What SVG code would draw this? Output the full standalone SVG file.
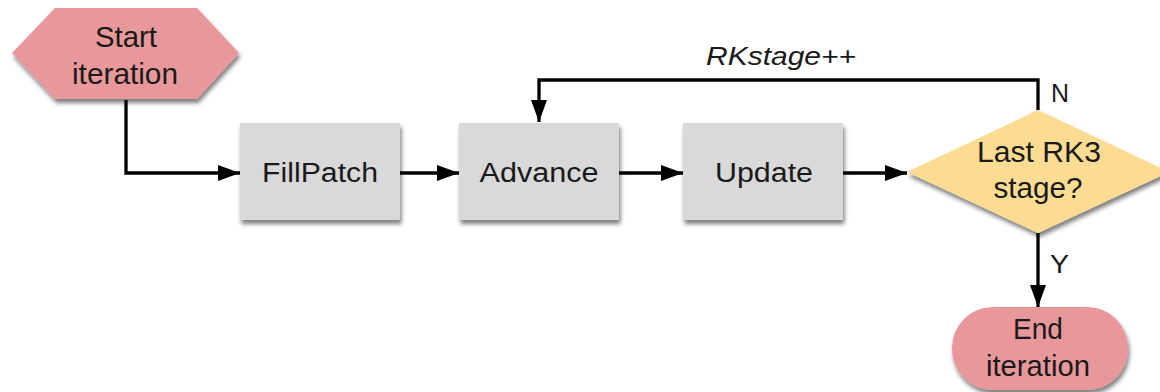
<svg xmlns="http://www.w3.org/2000/svg" width="1160" height="392" viewBox="0 0 1160 392">
<style>
  .t { font-family: "Liberation Sans", Arial, sans-serif; font-size: 27px; fill: #1a1a1a; text-anchor: middle; }
  .tb { font-size: 29px; }
  .lbl { font-family: "Liberation Sans", Arial, sans-serif; font-size: 26px; fill: #1a1a1a; }
  .box { fill: #d9d9d9; filter: url(#sh); }
  .term { fill: #e8989b; filter: url(#sh); }
  .dec { fill: #fcdc92; filter: url(#sh); }
  .conn { fill: none; stroke: #000; stroke-width: 3.3; marker-end: url(#arr); }
</style>
<defs>
  <filter id="sh" x="-10%" y="-10%" width="130%" height="140%">
    <feDropShadow dx="1.5" dy="4" stdDeviation="2" flood-color="#000" flood-opacity="0.5"/>
  </filter>
  <marker id="arr" markerUnits="userSpaceOnUse" markerWidth="24" markerHeight="18" refX="22" refY="8" orient="auto">
    <path d="M0,0 L22,8 L0,16 Z" fill="#000"/>
  </marker>
</defs>
<rect width="1160" height="392" fill="#ffffff"/>

<g id="connectors">
  <path class="conn" d="M126,100 V173 H240"/>
  <path class="conn" d="M400,173 H459"/>
  <path class="conn" d="M619,173 H683"/>
  <path class="conn" d="M843,173 H907"/>
  <path class="conn" d="M1038,110 V80 H539 V122"/>
  <path class="conn" d="M1038,233 V307"/>
  <text class="lbl" x="706" y="65" font-style="italic" textLength="150" lengthAdjust="spacingAndGlyphs">RKstage++</text>
  <text class="lbl" x="1051" y="102" textLength="18" lengthAdjust="spacingAndGlyphs">N</text>
  <text class="lbl" x="1050" y="273" textLength="19" lengthAdjust="spacingAndGlyphs">Y</text>
</g>

<g id="start">
  <polygon class="term" points="12,53 55,8 197,8 239,53 197,99 55,99"/>
  <text class="t tb" x="126" y="47" textLength="62" lengthAdjust="spacingAndGlyphs">Start</text>
  <text class="t tb" x="125" y="84" textLength="106" lengthAdjust="spacingAndGlyphs">iteration</text>
</g>

<g id="fillpatch">
  <rect class="box" x="240" y="123" width="160" height="97"/>
  <text class="t" x="320" y="182" textLength="116" lengthAdjust="spacingAndGlyphs">FillPatch</text>
</g>

<g id="advance">
  <rect class="box" x="459" y="123" width="160" height="97"/>
  <text class="t" x="539" y="182" textLength="119" lengthAdjust="spacingAndGlyphs">Advance</text>
</g>

<g id="update">
  <rect class="box" x="683" y="123" width="160" height="97"/>
  <text class="t" x="764" y="182" textLength="98" lengthAdjust="spacingAndGlyphs">Update</text>
</g>

<g id="decision">
  <polygon class="dec" points="907,172 1038,110 1169,172 1038,233"/>
  <text class="t tb" x="1039" y="162" textLength="124" lengthAdjust="spacingAndGlyphs">Last RK3</text>
  <text class="t tb" x="1038" y="198" textLength="89" lengthAdjust="spacingAndGlyphs">stage?</text>
</g>

<g id="end">
  <rect class="term" x="952" y="307" width="176" height="83" rx="41" ry="41"/>
  <text class="t tb" x="1038" y="339" textLength="50" lengthAdjust="spacingAndGlyphs">End</text>
  <text class="t tb" x="1038" y="376" textLength="104" lengthAdjust="spacingAndGlyphs">iteration</text>
</g>
</svg>
